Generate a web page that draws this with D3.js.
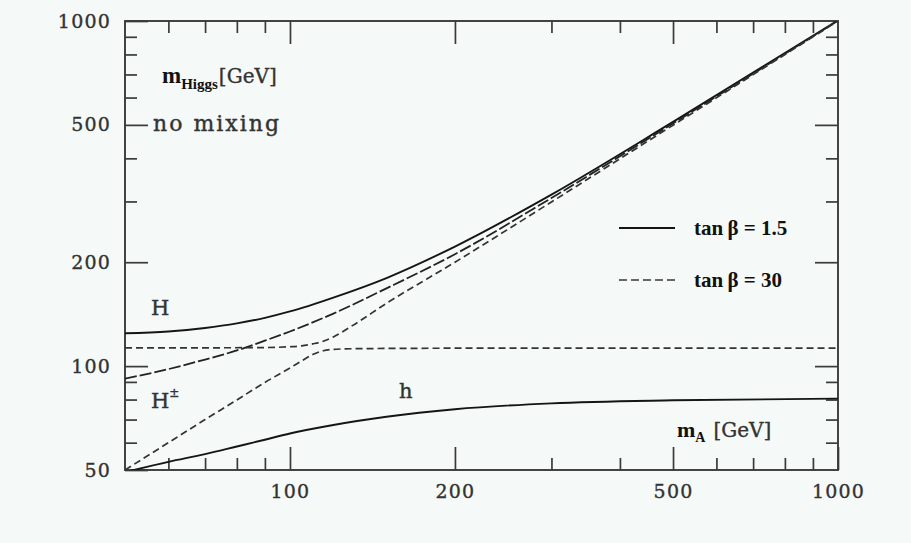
<!DOCTYPE html>
<html><head><meta charset="utf-8">
<script src="https://cdn.jsdelivr.net/npm/d3@7"></script>
<style>
html,body{margin:0;padding:0;background:#f5f9f7;}
svg{display:block;}
text{font-family:"DejaVu Serif","Liberation Serif",serif;}
</style></head>
<body>
<svg id="c" width="911" height="543"></svg>
<script>
// ---- data ----
const xMajorTicks = [100, 200, 500, 1000];
const yMajorTicks = [50, 100, 200, 500, 1000];
const minorTicks = [60, 70, 80, 90, 300, 400, 600, 700, 800, 900];

// tan beta = 1.5 (solid)
const mA_15 = [50, 60, 70, 80, 90, 100, 120, 150, 200, 300, 500, 1000];
const H_15  = [124.5, 126, 129, 133, 138, 144, 158, 180, 222, 314, 510, 1004];
const h_15  = [49.3, 52.8, 55.6, 58.5, 61.2, 63.8, 67.5, 71.3, 75, 78, 79.6, 80.5];

// charged Higgs (long dashes)
const mA_ch = [50, 60, 70, 80, 90, 100, 120, 150, 200, 300, 500, 1000];
const H_ch  = [92, 98, 104.5, 111, 118.5, 126, 142, 168, 211, 307, 505, 1003];

// tan beta = 30 (dashed)
const mA_h30 = [50, 60, 70, 80, 90, 100, 105, 110, 115, 120, 130, 150, 200, 300, 500, 1000];
const h_30   = [50, 60, 70, 79.8, 89.7, 98.8, 103.5, 108, 110.8, 111.8, 112.3, 112.5, 112.7, 112.8, 112.8, 112.8];
const mA_H30 = [50, 70, 90, 100, 105, 110, 115, 120, 130, 150, 200, 300, 500, 1000];
const H_30   = [113, 113, 113.2, 113.8, 114.5, 116, 118, 121.5, 131, 152, 200, 299, 499, 1000];

const legendLabels = ["tan\u2009\u03b2 = 1.5", "tan\u2009\u03b2 = 30"];

// ---- layout ----
const svg = d3.select("#c");
const L = 125, R = 838, T = 21, B = 470;
const x = d3.scaleLog().domain([50, 1000]).range([L, R]);
const y = d3.scaleLog().domain([50, 1000]).range([B, T]);
const axisColor = "#3a3a3a";
const textColor = "#333";
const MAJ = 23, MIN = 12;

svg.append("rect").attr("width", 911).attr("height", 543).attr("fill", "#f5f9f7");

function styleAxis(g) {
  g.select(".domain").remove();
  g.selectAll(".tick line").attr("stroke", axisColor).attr("stroke-width", 1.7);
  g.selectAll(".tick text").attr("fill", textColor).attr("stroke", textColor).attr("stroke-width", 0.35)
    .style("font-size", "19px").style("font-family", "'DejaVu Serif', serif").style("letter-spacing", "1.2px");
}

// bottom
svg.append("g").attr("transform", `translate(0,${B})`)
  .call(d3.axisBottom(x).tickValues(xMajorTicks).tickSizeInner(-MAJ).tickSizeOuter(0).tickPadding(15).tickFormat(d3.format("d")))
  .call(styleAxis);
svg.append("g").attr("transform", `translate(0,${B})`)
  .call(d3.axisBottom(x).tickValues(minorTicks).tickSizeInner(-MIN).tickSizeOuter(0).tickFormat(""))
  .call(styleAxis);
// top
svg.append("g").attr("transform", `translate(0,${T})`)
  .call(d3.axisTop(x).tickValues([100, 200, 500]).tickSizeInner(-MAJ).tickSizeOuter(0).tickFormat(""))
  .call(styleAxis);
svg.append("g").attr("transform", `translate(0,${T})`)
  .call(d3.axisTop(x).tickValues(minorTicks).tickSizeInner(-MIN).tickSizeOuter(0).tickFormat(""))
  .call(styleAxis);
// left
svg.append("g").attr("transform", `translate(${L},0)`)
  .call(d3.axisLeft(y).tickValues(yMajorTicks).tickSizeInner(-MAJ).tickSizeOuter(0).tickPadding(14).tickFormat(d3.format("d")))
  .call(styleAxis);
svg.append("g").attr("transform", `translate(${L},0)`)
  .call(d3.axisLeft(y).tickValues(minorTicks).tickSizeInner(-MIN).tickSizeOuter(0).tickFormat(""))
  .call(styleAxis);
// right
svg.append("g").attr("transform", `translate(${R},0)`)
  .call(d3.axisRight(y).tickValues([100, 200, 500]).tickSizeInner(-MAJ).tickSizeOuter(0).tickFormat(""))
  .call(styleAxis);
svg.append("g").attr("transform", `translate(${R},0)`)
  .call(d3.axisRight(y).tickValues(minorTicks).tickSizeInner(-MIN).tickSizeOuter(0).tickFormat(""))
  .call(styleAxis);

// frame
svg.append("rect").attr("x", L).attr("y", T).attr("width", R - L).attr("height", B - T)
  .attr("fill", "none").attr("stroke", axisColor).attr("stroke-width", 1.9);

// clip
svg.append("clipPath").attr("id", "plot").append("rect")
  .attr("x", L).attr("y", T).attr("width", R - L).attr("height", B - T);

const line = d3.line().x(d => x(d[0])).y(d => y(d[1])).curve(d3.curveMonotoneX);
const curves = [
  {xs: mA_15, ys: H_15, dash: null, color: "#151515", w: 1.9},
  {xs: mA_15, ys: h_15, dash: null, color: "#151515", w: 1.9},
  {xs: mA_ch, ys: H_ch, dash: "12,3", color: "#222", w: 1.8},
  {xs: mA_h30, ys: h_30, dash: "7,4", color: "#333", w: 1.7},
  {xs: mA_H30, ys: H_30, dash: "7,4", color: "#333", w: 1.7}
];
const cg = svg.append("g").attr("clip-path", "url(#plot)");
curves.forEach(c => {
  cg.append("path").datum(c.xs.map((v, i) => [v, c.ys[i]]))
    .attr("d", line).attr("fill", "none").attr("stroke", c.color)
    .attr("stroke-width", c.w).attr("stroke-dasharray", c.dash);
});

// labels
const lab = svg.append("g").attr("fill", textColor);
// m_Higgs [GeV]
const t1 = lab.append("text").attr("x", 162).attr("y", 83);
t1.append("tspan").text("m").style("font-family", "'Liberation Serif', serif").style("font-weight", "bold").style("font-size", "23px").attr("fill", "#111");
t1.append("tspan").text("Higgs").attr("dy", 6).style("font-family", "'Liberation Serif', serif").style("font-weight", "bold").style("font-size", "15px").attr("fill", "#111");
t1.append("tspan").text("[GeV]").attr("dy", -6).attr("dx", 1).style("font-size", "20px").attr("stroke", textColor).attr("stroke-width", 0.35);

lab.append("text").attr("x", 153).attr("y", 131).text("no mixing")
  .style("font-size", "22px").attr("stroke", textColor).attr("stroke-width", 0.4)
  .attr("textLength", 126).attr("lengthAdjust", "spacing");

lab.append("text").attr("x", 151).attr("y", 315).text("H").style("font-size", "21px").attr("stroke", textColor).attr("stroke-width", 0.4);
const hc = lab.append("text").attr("x", 151).attr("y", 408).attr("stroke", textColor).attr("stroke-width", 0.4);
hc.append("tspan").text("H").style("font-size", "21px");
hc.append("tspan").text("\u00b1").attr("dy", -11).style("font-size", "12px");
lab.append("text").attr("x", 399).attr("y", 398).text("h").style("font-size", "21px").attr("stroke", textColor).attr("stroke-width", 0.4);

// m_A [GeV]
const t2 = lab.append("text").attr("x", 677).attr("y", 437);
t2.append("tspan").text("m").style("font-family", "'Liberation Serif', serif").style("font-weight", "bold").style("font-size", "22px").attr("fill", "#111");
t2.append("tspan").text("A").attr("dy", 5).style("font-family", "'Liberation Serif', serif").style("font-weight", "bold").style("font-size", "14px").attr("fill", "#111");
t2.append("tspan").text("[GeV]").attr("dy", -5).attr("dx", 8).style("font-size", "20px").attr("stroke", textColor).attr("stroke-width", 0.35);

// legend
const legendStyles = [{dash: null, color: "#151515"}, {dash: "8,4", color: "#666"}];
legendLabels.forEach((s, i) => {
  const yy = 228 + i * 52;
  svg.append("line").attr("x1", 619).attr("x2", 675).attr("y1", yy).attr("y2", yy)
    .attr("stroke", legendStyles[i].color).attr("stroke-width", 1.9).attr("stroke-dasharray", legendStyles[i].dash);
  svg.append("text").attr("x", 694).attr("y", yy + 7).text(s)
    .style("font-family", "'Liberation Serif', serif").style("font-weight", "bold")
    .style("font-size", "21px").attr("fill", "#111");
});
</script>
</body></html>
